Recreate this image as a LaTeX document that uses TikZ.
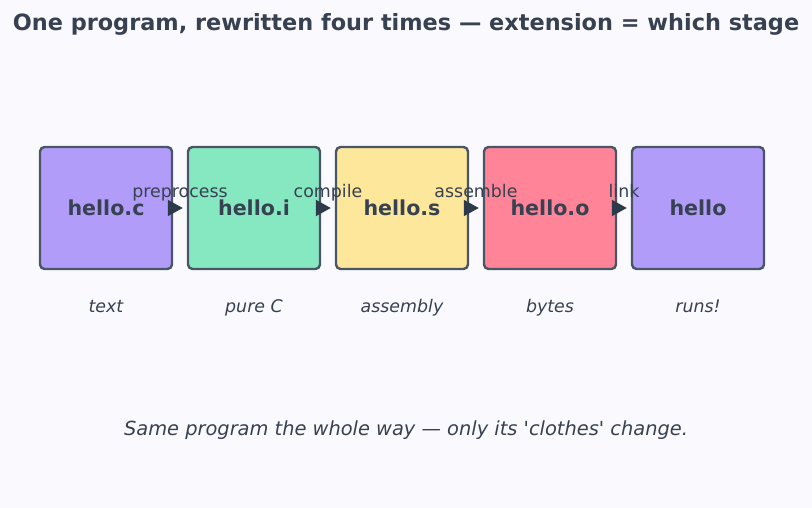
\documentclass[tikz,border=0pt]{standalone}
\usepackage{fontspec}
\setmainfont{DejaVu Sans}
\usepackage{tikz}
\usetikzlibrary{arrows.meta,positioning}
\definecolor{inkdark}{RGB}{55,65,81}
\definecolor{edgegrey}{RGB}{74,85,104}
\definecolor{arrowink}{RGB}{45,58,74}
\definecolor{pagebg}{RGB}{250,250,254}
\definecolor{softpurple}{RGB}{177,156,250}
\definecolor{softgreen}{RGB}{134,232,193}
\definecolor{softyellow}{RGB}{253,231,154}
\definecolor{softred}{RGB}{255,132,151}
\tikzset{
  stage/.style={
    draw=edgegrey,
    line width=2.4pt,
    rounded corners=4.5pt,
    minimum width=132pt,
    minimum height=122pt,
    text=inkdark,
    font=\fontsize{20.6}{24}\selectfont\bfseries
  },
  purplebox/.style={stage, fill=softpurple},
  greenbox/.style={stage, fill=softgreen},
  yellowbox/.style={stage, fill=softyellow},
  redbox/.style={stage, fill=softred},
  step arrow/.style={-{Triangle[length=15pt,width=16pt]}, line width=2pt,
    draw=arrowink, shorten <=-4pt, shorten >=4pt},
  steplabel/.style={anchor=base, font=\fontsize{17.4}{20}\selectfont, text=inkdark},
  caption/.style={anchor=base, font=\fontsize{17.4}{20}\selectfont\itshape, text=inkdark}
}

\begin{document}
\begin{tikzpicture}[x=1pt,y=-1pt]
  \fill[pagebg] (0,0) rectangle (812,508);
  \useasboundingbox (0,0) rectangle (812,508);

  \node[anchor=base,font=\fontsize{22.4}{26}\selectfont\bfseries,text=inkdark] (title) at (406,31)
    {One program, rewritten four times — extension = which stage};

  \node[purplebox] (srcc) at (106,208) {hello.c};
  \node[greenbox] (srci) at (254,208) {hello.i};
  \node[yellowbox] (srcs) at (402,208) {hello.s};
  \node[redbox] (objo) at (550,208) {hello.o};
  \node[purplebox] (exe) at (698,208) {hello};

  \draw[step arrow] (srcc) -- (srci);
  \draw[step arrow] (srci) -- (srcs);
  \draw[step arrow] (srcs) -- (objo);
  \draw[step arrow] (objo) -- (exe);

  \node[steplabel] (prep) at (180,198) {preprocess};
  \node[steplabel] (comp) at (328,198) {compile};
  \node[steplabel] (asm) at (476,198) {assemble};
  \node[steplabel] (lnk) at (624,198) {link};

  \node[caption] (capc) at (106,312) {text};
  \node[caption] (capi) at (254,312) {pure C};
  \node[caption] (caps) at (402,312) {assembly};
  \node[caption] (capo) at (550,312) {bytes};
  \node[caption] (capx) at (698,312) {runs!};

  \node[anchor=base,font=\fontsize{19.4}{23}\selectfont\itshape,text=inkdark] (footer) at (406,435)
    {Same program the whole way — only its \textquotesingle clothes\textquotesingle{} change.};
\end{tikzpicture}
\end{document}
